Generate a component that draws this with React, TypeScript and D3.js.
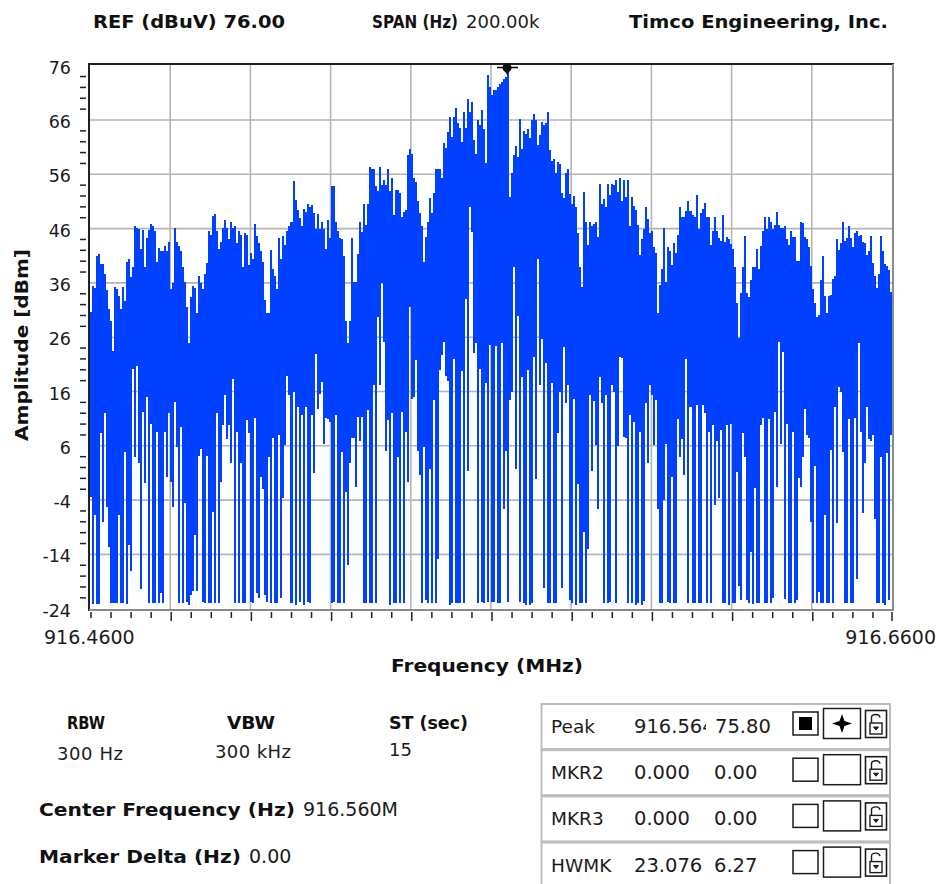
import React from "react";
import * as d3 from "d3";

const traceTop: number[] = [
30.7,35.5,35,41,41.3,39.5,39.5,37.7,34.7,31.2,
28.9,23.5,35.2,34.8,33.5,31.2,35.2,32.6,39.9,40.4,
37,38.9,46.5,46.2,45.9,42.2,45.8,38.9,44.2,45.8,
46.9,46.5,45.5,39.9,42.5,41.8,41.8,42.8,41.8,43.6,
34.8,35.9,46.1,43.6,42.8,41.8,38.9,36.2,31.5,24.9,
33.4,35.5,35,30.4,37.3,35.9,34.8,37.7,39.6,45.5,
44.8,48.3,48.7,45.5,42.2,43.6,46.1,47.6,46.1,44,
47.3,46.1,46.5,43.4,45.5,44.8,38.9,45.1,44.8,39.3,
41.5,40.4,46.9,44.7,43.4,41.8,39.9,32.8,30.4,30.4,
42.1,38.5,37.3,34.8,44.2,40.4,44.7,43,45.5,46.4,
47.3,54.7,51.3,49.4,47.9,46.4,49.7,49.1,50.5,50,
50.4,48.8,45.9,48.7,45.9,47.3,45.9,42.2,47.6,44.2,
53.9,53.9,47.3,45.5,44.2,44,41,28.9,24.9,28.9,
44.2,36.2,36.2,41.4,47.3,45.4,50.6,46.7,50.6,57.3,
56.9,56.9,53.9,53,57.3,54,55,54,56.9,53,
55.4,48.5,53.2,53.2,52.5,48.2,49.1,49.5,59.5,60.6,
59.8,55.4,54.6,51,48.8,46.5,39.9,44.5,47.3,51.7,
48.8,52.5,56.9,56.9,56.9,55.4,61.7,60.9,63.8,66.5,
62.9,66.5,68.3,65.4,64.6,62,67.5,64.6,69.8,67.5,
69.4,62.4,59.8,66,65,67.9,64.3,58,74.3,72.1,
70.6,71.6,71.6,72,72.7,73,73.5,74,75.5,51.9,
56.2,59.5,61.2,59.2,66.1,60.6,64,63.5,64.3,62.6,
66,67.1,66,61.4,63.2,65.7,65.1,65.4,67.5,60.5,
58.5,58.9,56.3,58.3,57.9,52.5,51.7,56.2,56.9,52.4,
50.6,52,49.9,45.1,38.9,35.3,52.8,47.3,43,47.3,
46.5,46.8,47.3,44.4,54.2,50.6,51.4,49.9,54.2,52.2,
54.2,54,55,52.8,55.4,51.1,55,51.8,55,46.4,
51.8,50.2,49.4,46.7,41.2,44,45.9,49.9,47.7,45.1,
45.6,42.6,41.5,30.4,35.6,38.5,46.2,36.1,42.6,41.8,
39.3,43.3,41.5,44.8,49.9,48.2,48.2,49.3,51,49.3,
48.5,48.1,52.2,45.9,48.8,49.6,50.7,48.1,48.1,43,
45.5,48.1,45.6,44.2,43.8,48.5,43.6,44.4,44,43.2,
42.2,38.9,32.3,25.8,34.1,38.9,44.7,34.1,33.4,36.6,
38.9,38.9,42.2,38.5,42.8,45.6,48.1,45.9,48.1,47.3,
45.9,46.7,49.1,46.7,46.2,46.2,46.5,44,43,45.5,
44.4,44.4,40.1,40.1,47.3,47,44.4,44,42.6,39.1,
34.8,32.3,29.8,30.1,36.6,41,33.5,30.4,33.5,33.8,
36.7,37.3,44,42.1,43.4,47.3,43.8,44.2,46.5,44.2,
42.6,45.1,45.5,44.7,44.8,43.6,43.4,41.2,41.8,44.7,
39.6,37.3,35,37.7,44.7,41.8,39.5,39.1,38.4,34.4,31.5,
];

const traceBottom: number[] = [
-3.5,-23.1,-6.7,-23.1,-23.1,8.3,-8,12,-5.2,-12.6,
-22.9,-22.9,-22.9,-22.9,-6.7,-23,-23,4.9,-23.1,-12.3,
-17,20.1,3.9,20.7,2.8,-20.4,12.3,-0.9,14.9,-23,
10.1,-23,-23,8.6,-23,-21.2,-23,8.6,0.3,12,
-0.6,-5.2,14.1,5.8,-23,9.4,-23,-4.6,-22.7,-23.3,
-21.5,-20.7,-10.4,-20.7,4.1,5.5,-22.7,-23,4.1,-22.9,
-23,-6.1,-23,12,-23,-0.6,9.8,15.3,7.2,9.8,
2.8,18.3,-23,8.6,-23,2.8,-23,-23,10.7,8.3,
-22.7,-22.9,11.2,-21.2,-22.1,0.2,-2,-21.5,-22.7,3.9,
-22.9,7.5,-22.9,-23,8,-22.1,-3.7,6.1,18.8,15.3,
-23,16,-23.3,13.2,-22.7,11.7,-23.3,13.1,-22.7,-22.9,
11.7,0.9,22.9,12.7,15.6,17.8,6.4,11.2,11,10.4,
-22.9,-22.7,11.7,-23,-23,4.9,-22.9,-2.5,-16,2.8,
7.5,7.5,-1.5,11.3,6.8,11.3,-23,-23,12.6,-23,
-23,17.2,-23,29.7,17.2,36,25.2,5.1,10.8,-23.3,
12,-23,-23,3.9,-23,12.3,-23,8.6,-0.6,31.6,
14.6,14.9,21.8,5,0.7,-23,5.7,-22.4,-23,1.7,
-23,14.5,-23,-14.9,20,22.7,25.2,18.8,18,-23.3,
-23,22,-23,-23,-23,19.7,-23,33,1.3,50,
45.4,23,24.9,-23,20.1,-22.7,-23,17.5,-22.7,24.6,
-22.7,-22.7,24.3,-23,-23,24.9,-5.7,5,-22.7,14.5,
16,38.9,1.7,29.9,-22.7,18.6,-23,-23.3,20,-23.3,
-23,22.3,-0.1,40.4,17.2,25.7,-20.2,21.2,-23,-23,
17.5,-23,-23,8.3,16,-20.2,24.2,13.8,17.2,-22.4,
-23,14.6,-23.3,-1,-23,-23,-9.8,-23,-13,15.4,
1.3,14.2,6.2,-5.7,18.6,13.8,-23,15.4,-23,-22.7,
17.2,16,-23,6,22.3,22.1,7.7,7.5,-22.9,11.7,
-22.9,10.4,-23.3,-22.9,8.6,-23.3,-22.5,13.8,2.8,17.2,
15.3,6.1,14.5,-5.7,-22.9,-22.9,-4,6.4,-22.7,-23,
0.2,-22.9,-22.9,10.9,3.9,7.2,0.6,22,-22.9,13.1,
-22.9,-22.9,13.5,-22.9,-22.9,13.5,12,-22.9,8.6,-22.9,
9.8,-4.9,6.8,-3.7,9,-22.9,-22.9,9.8,-23.3,10.1,
-22.9,-22.9,1.2,-19.8,-22.4,8.3,3.9,-22.4,-22.9,-13.5,
-23.1,-1.7,-22.9,-23,9.8,11.2,-22.9,-22.9,10.9,-22.9,
-22.1,12.3,-1.5,25.1,6.4,23.3,-22.3,10.1,-22.9,-22.9,
8.6,-22.9,-22.4,0,-1.5,3.9,12.7,8,7.5,-8,
-22.9,2.3,-22.9,-20.9,-22.9,-22.9,-6.7,-22.9,-22.9,5.3,
-22.9,13.1,-8.3,16.8,16,4.9,-22.9,-22.9,10.9,-22.9,
-22.9,11.2,-18.6,24.9,8.6,-6.4,2.8,13.1,7.2,6.8,
8,-7.5,-22.9,-22.9,3.9,-22.9,-23.3,4.6,-22.4,8,0.2,
];

const ampMajor = [76, 66, 56, 46, 36, 26, 16, 6, -4, -14, -24];
const freqStart = 916.46;
const freqEnd = 916.66;
const freqStep = 0.0005;
const peakFreq = 916.564;
const peakAmp = 75.8;

const headerRows = ["RBW", "VBW", "ST (sec)"];
const headerValues = ["300 Hz", "300 kHz", "15"];
const markerNames = ["Peak", "MKR2", "MKR3", "HWMK"];
const markerFreqs = ["916.564", "0.000", "0.000", "23.076"];
const markerAmps = ["75.80", "0.00", "0.00", "6.27"];

const FONT = "'DejaVu Sans', Verdana, sans-serif";
const BLUE = "#0040ff";
const GRID = "#b5b5b5";
const INK = "#1c1c1c";

const x = d3.scaleLinear().domain([freqStart, freqEnd]).range([90, 892]);
const y = d3.scaleLinear().domain([66, -14]).range([120, 554.4]);

const minorFreq = d3.range(0, 41).map((k) => freqStart + k * 0.005);
const minorAmp = d3.range(-24, 76, 2).filter((v) => (v + 24) % 10 !== 0);

function Lock({ px, py }: { px: number; py: number }) {
  return (
    <g fill="none" stroke={INK} strokeWidth={1}>
      <rect x={px + 0.5} y={py + 0.5} width={21} height={27} strokeWidth={1.6} />
      <path d="M5.5 12 V6.5 Q5.5 3.5 10 3.5 Q13.5 3.5 14 6.5" transform={`translate(${px + 1},${py + 1})`} strokeWidth={1.4} />
      <rect x={px + 5} y={py + 13} width={12} height={11} strokeWidth={1.4} />
      <path d={`M${px + 8.5} ${py + 17} h5 l-2.5 3 z`} fill={INK} />
    </g>
  );
}

export default function App() {
  const columns = d3.zip(traceTop, traceBottom);
  const bold = { fontFamily: FONT, fontWeight: 700, fill: "#111", lengthAdjust: "spacingAndGlyphs" } as const;
  const plain = { fontFamily: FONT, fill: INK } as const;
  const colX = (i: number) => Math.round(x(freqStart + i * freqStep));
  return (
    <svg width={939} height={884} style={{ position: "absolute", left: 0, top: 0, background: "#fff" }}>
      <defs>
        <clipPath id="spanClip"><rect x={460} y={5} width={80} height={35} /></clipPath>
        <clipPath id="freqClip"><rect x={630} y={700} width={76} height={50} /></clipPath>
        <clipPath id="pageClip"><rect x={0} y={0} width={939} height={884} /></clipPath>
      </defs>

      <text x={93} y={28} fontSize={18} textLength={192} {...bold}>REF (dBuV) 76.00</text>
      <text x={372} y={28} fontSize={18} textLength={86} {...bold}>SPAN (Hz)</text>
      <text x={466} y={28} fontSize={18} clipPath="url(#spanClip)" {...plain}>200.00k</text>
      <text x={629} y={28} fontSize={18} textLength={259} {...bold}>Timco Engineering, Inc.</text>

      {ampMajor.slice(1, -1).map((v) => (
        <line key={v} x1={90} x2={892} y1={y(v)} y2={y(v)} stroke={GRID} strokeWidth={1.6} />
      ))}
      {d3.range(1, 10).map((k) => {
        const px = x(freqStart + k * 0.02);
        return <line key={k} x1={px} x2={px} y1={64} y2={610} stroke={GRID} strokeWidth={1.6} />;
      })}

      <g fill={BLUE} shapeRendering="crispEdges">
        {columns.map(([top, bottom], i) => (
          <rect
            key={i}
            x={colX(i)}
            width={Math.max(2, colX(i + 1) - colX(i))}
            y={Math.round(y(top))}
            height={Math.max(1, Math.round(y(bottom)) - Math.round(y(top)))}
          />
        ))}
      </g>

      <line x1={89} x2={89} y1={63} y2={611} stroke="#222" strokeWidth={2} />
      <line x1={88} x2={894} y1={64} y2={64} stroke="#222" strokeWidth={2} />
      <line x1={893} x2={893} y1={64} y2={611} stroke="#8c8c8c" strokeWidth={2} />
      <line x1={89} x2={894} y1={610} y2={610} stroke="#8c8c8c" strokeWidth={2} />

      <g fill="#111">
        <line x1={497} x2={518} y1={67.5} y2={67.5} stroke="#111" strokeWidth={1.6} />
        <circle cx={x(peakFreq)} cy={y(peakAmp) + 1} r={4.5} />
        <path d={`M${x(peakFreq) - 3} ${y(peakAmp) + 3} h6 l-3 5 z`} />
      </g>

      {ampMajor.map((v) => (
        <text key={v} x={71} y={y(v) + 8} fontSize={17.5} textAnchor="end" {...plain}>{v}</text>
      ))}
      {minorAmp.map((v) => (
        <line key={v} x1={80} x2={86} y1={y(v)} y2={y(v)} stroke="#222" strokeWidth={1.5} />
      ))}
      {minorFreq.map((f, k) => {
        const px = k === 40 ? 892 : x(f) + 1;
        return <line key={k} x1={px} x2={px} y1={612} y2={k % 4 === 0 && k > 0 ? 621 : 618} stroke="#222" strokeWidth={1.5} />;
      })}

      <text x={44} y={644} fontSize={19} {...plain}>{freqStart.toFixed(4)}</text>
      <text x={936} y={644} fontSize={19} textAnchor="end" {...plain}>{freqEnd.toFixed(4)}</text>
      <text x={391} y={672} fontSize={18} textLength={192} {...bold}>Frequency (MHz)</text>
      <text transform="translate(28,441) rotate(-90)" fontSize={18} textLength={192} {...bold}>Amplitude [dBm]</text>

      <text x={67} y={729} fontSize={18} textLength={38} {...bold}>{headerRows[0]}</text>
      <text x={227} y={729} fontSize={18} textLength={48} {...bold}>{headerRows[1]}</text>
      <text x={389} y={729} fontSize={18} textLength={79} {...bold}>{headerRows[2]}</text>

      <text x={57} y={760} fontSize={18} textLength={66} {...plain}>{headerValues[0]}</text>
      <text x={215} y={758} fontSize={18} textLength={76} {...plain}>{headerValues[1]}</text>
      <text x={389} y={756} fontSize={18} {...plain}>{headerValues[2]}</text>

      <text x={39} y={816} fontSize={18} textLength={256} {...bold}>Center Frequency (Hz)</text>
      <text x={303} y={816} fontSize={19} {...plain}>916.560M</text>
      <text x={39} y={863} fontSize={18} textLength={202} {...bold}>Marker Delta (Hz)</text>
      <text x={249} y={863} fontSize={19} {...plain}>0.00</text>

      <g clipPath="url(#pageClip)">
        {markerNames.map((name, i) => {
          const r = 704 + i * 46.2;
          return (
            <g key={name}>
              <rect x={541.5} y={r} width={348.5} height={45} fill="#fff" stroke="#bdbdbd" strokeWidth={2} />
              <text x={551} y={r + 29} fontSize={18.5} {...plain}>{name}</text>
              <text x={634} y={r + 29} fontSize={19.5} clipPath={i === 0 ? "url(#freqClip)" : undefined} {...plain}>{markerFreqs[i]}</text>
              <text x={i === 0 ? 715 : 714} y={r + 29} fontSize={19.5} {...plain}>{markerAmps[i]}</text>
              <rect x={793} y={r + 8} width={25} height={23} fill="#fff" stroke={INK} strokeWidth={1.5} />
              <rect x={823.5} y={r + 4.5} width={37} height={30} fill="#fff" stroke={INK} strokeWidth={1.5} />
              {i === 0 && (
                <g fill="#000">
                  <rect x={799} y={r + 13} width={13} height={13} />
                  <path d={`M842 ${r + 10} l2.5 7 l7.5 2.5 l-7.5 2.5 l-2.5 7 l-2.5 -7 l-7.5 -2.5 l7.5 -2.5 z`} />
                </g>
              )}
              <Lock px={865} py={r + 6} />
            </g>
          );
        })}
      </g>
    </svg>
  );
}
